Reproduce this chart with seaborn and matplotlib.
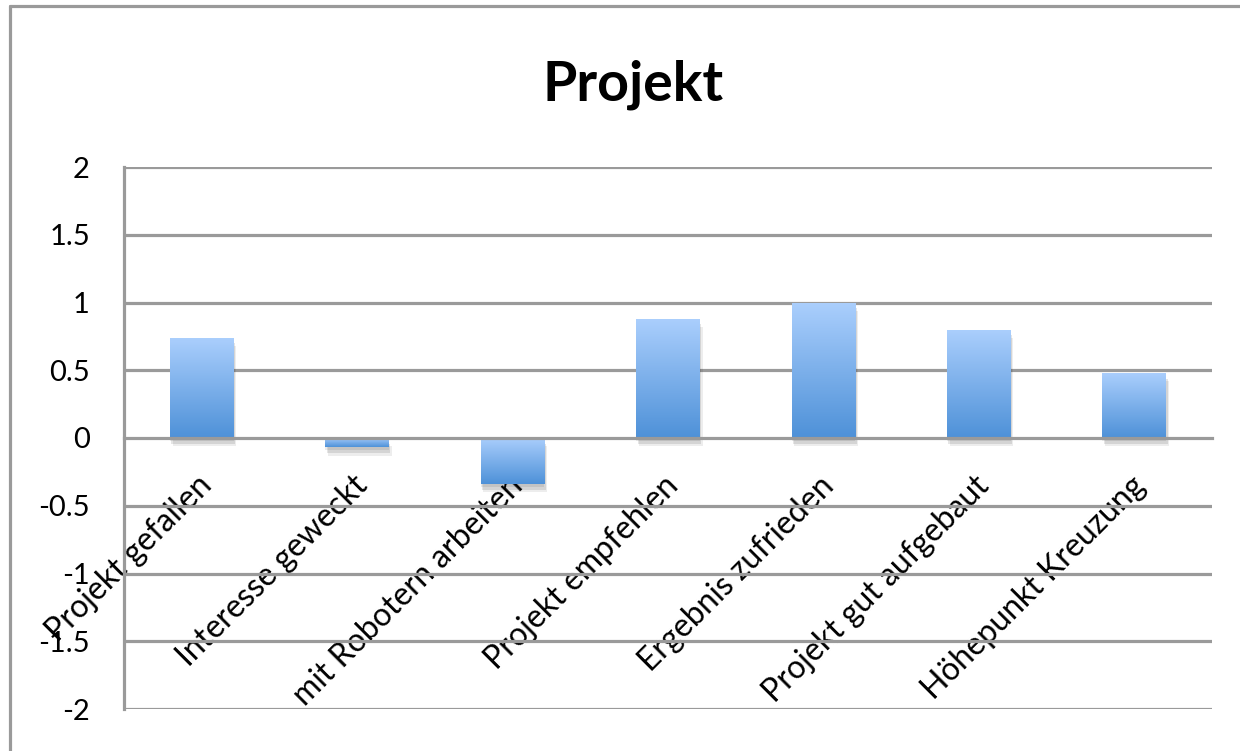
import numpy as np
import pandas as pd
import matplotlib
matplotlib.use("Agg")
import matplotlib.pyplot as plt
import matplotlib.patheffects as pe
from matplotlib.lines import Line2D
from matplotlib.transforms import ScaledTranslation
from matplotlib.colors import to_rgb
import seaborn as sns

# Survey statements and their mean scores
categories = [
    "Projekt gefallen",
    "Interesse geweckt",
    "mit Robotern arbeiten",
    "Projekt empfehlen",
    "Ergebnis zufrieden",
    "Projekt gut aufgebaut",
    "Höhepunkt Kreuzung",
]
values = [0.74, -0.07, -0.34, 0.88, 1.0, 0.8, 0.48]
y_ticks = [-2, -1.5, -1, -0.5, 0, 0.5, 1, 1.5, 2]
y_tick_labels = ["-2", "-1.5", "-1", "-0.5", "0", "0.5", "1", "1.5", "2"]
title = "Projekt"

sns.set_theme(style="white")
plt.rcParams["font.family"] = ["Lato", "DejaVu Sans"]

GRID = "#9a9a9a"
TOP_COLOR = "#abcffd"
BOTTOM_COLOR = "#4e91d8"

fig = plt.figure(figsize=(12.4, 7.51), dpi=100)
ax = fig.add_axes([124 / 1240, 1 - 709 / 751, (1212 - 124) / 1240, (709 - 167) / 751])

df = pd.DataFrame({"Aussage": categories, "Wert": values})
sns.barplot(data=df, x="Aussage", y="Wert", width=0.41, color=BOTTOM_COLOR,
            ax=ax, zorder=3)

# Vertical gradient fill plus a soft drop shadow for each bar
grad = np.linspace(0, 1, 256)[:, None]
c0 = np.array(to_rgb(TOP_COLOR))
c1 = np.array(to_rgb(BOTTOM_COLOR))
grad_img = (c0 * (1 - grad) + c1 * grad)[:, None, :].reshape(256, 1, 3)
for patch in ax.patches:
    x0 = patch.get_x()
    w = patch.get_width()
    y0 = patch.get_y()
    h = patch.get_height()
    lo, hi = min(y0, y0 + h), max(y0, y0 + h)
    patch.set_edgecolor("none")
    patch.set_path_effects([
        pe.SimplePatchShadow(offset=(1, -4), shadow_rgbFace="#000000", alpha=0.10),
        pe.SimplePatchShadow(offset=(2, -6), shadow_rgbFace="#000000", alpha=0.07),
        pe.SimplePatchShadow(offset=(0, -2), shadow_rgbFace="#000000", alpha=0.08),
        pe.Normal(),
    ])
    im = ax.imshow(grad_img, extent=[x0, x0 + w, lo, hi], origin="upper",
                   aspect="auto", zorder=4, interpolation="bilinear")
    im.set_clip_path(patch)

ax.set_xlim(-0.5, len(categories) - 0.5)
ax.set_ylim(-2, 2)
ax.set_yticks(y_ticks)
ax.set_yticklabels(y_tick_labels)
ax.set_xlabel("")
ax.set_ylabel("")

# Horizontal gridlines
for yv in y_ticks:
    if yv != 0:
        ax.axhline(yv, color=GRID, lw=2.3, zorder=1)

# Category axis sits on the zero line
for side in ("top", "right"):
    ax.spines[side].set_visible(False)
ax.spines["bottom"].set_position(("data", 0))
ax.spines["bottom"].set_color(GRID)
ax.spines["bottom"].set_linewidth(2.3)
ax.spines["bottom"].set_zorder(5)
ax.spines["left"].set_color(GRID)
ax.spines["left"].set_linewidth(2.3)

ax.set_xticks(np.arange(len(categories)))
ax.set_xticks(np.arange(len(categories) + 1) - 0.5, minor=True)
ax.tick_params(axis="x", which="major", length=0, pad=31)
ax.tick_params(axis="x", which="minor", length=7.5, width=2.3, color=GRID,
               direction="out")
ax.tick_params(axis="y", which="major", length=7.5, width=2.3, color=GRID,
               direction="out", pad=17, labelsize=21, labelcolor="black")

offset = ScaledTranslation(6 / 100, 0, fig.dpi_scale_trans)
for lab in ax.get_xticklabels():
    lab.set_rotation(45)
    lab.set_ha("right")
    lab.set_va("center")
    lab.set_rotation_mode("anchor")
    lab.set_fontsize(23)
    lab.set_color("black")
    lab.set_transform(lab.get_transform() + offset)

fig.text(633 / 1240, 1 - 85 / 751, title, ha="center", va="center",
         fontsize=40, fontweight="bold", color="black")

# Chart frame
fig.add_artist(Line2D([9.5 / 1240, 9.5 / 1240], [0, 1 - 6 / 751],
                      transform=fig.transFigure, color=GRID, lw=2.3))
fig.add_artist(Line2D([9.5 / 1240, 1], [1 - 6 / 751, 1 - 6 / 751],
                      transform=fig.transFigure, color=GRID, lw=2.3))

fig.savefig("out.png", dpi=100, facecolor="white")
